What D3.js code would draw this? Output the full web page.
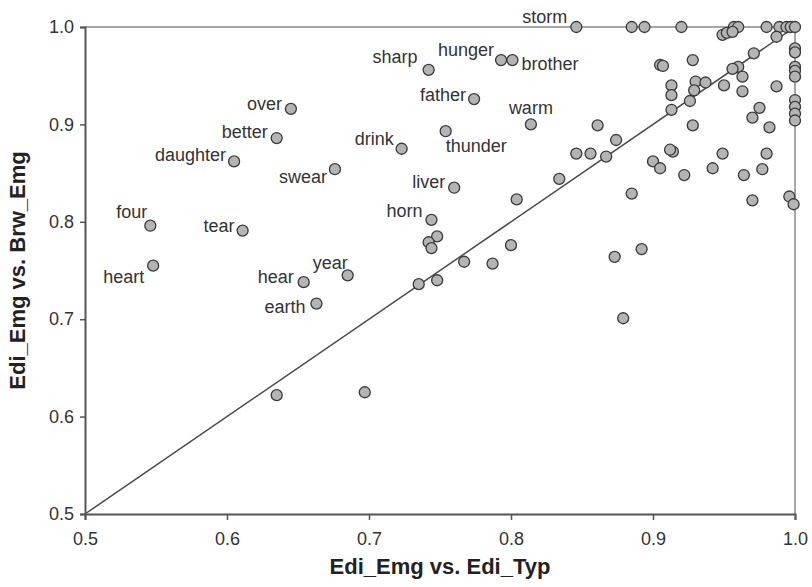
<!DOCTYPE html>
<html>
<head>
<meta charset="utf-8">
<script src="https://cdn.jsdelivr.net/npm/d3@7"></script>
<style>
  body { margin: 0; background: #fff; }
  svg { display: block; font-family: "Liberation Sans", Arial, sans-serif; }
</style>
</head>
<body>
<div id="chart"></div>
<script>
// 1: DATA
// labelled words
const words  = ["storm", "sharp", "hunger", "brother", "father", "warm", "thunder", "drink", "liver", "over",
                "better", "daughter", "swear", "four", "tear", "heart", "hear", "earth", "year", "horn"];
const wordX  = [0.846, 0.742, 0.793, 0.801, 0.774, 0.814, 0.754, 0.723, 0.760, 0.645,
                0.635, 0.605, 0.676, 0.546, 0.611, 0.548, 0.654, 0.663, 0.685, 0.744];
const wordY  = [1.000, 0.956, 0.966, 0.966, 0.926, 0.900, 0.893, 0.875, 0.835, 0.916,
                0.886, 0.862, 0.854, 0.796, 0.791, 0.755, 0.738, 0.716, 0.745, 0.802];

// unlabelled words
const otherX = [0.885, 0.894, 0.920, 0.957, 0.960, 0.980, 0.989, 0.994, 0.997, 1.000,
                0.949, 0.952, 0.956, 0.987, 0.971, 0.960, 0.956, 0.963,
                0.905, 0.907, 0.928, 0.913, 0.913, 0.930, 0.937, 0.929,
                0.950, 0.963, 0.987, 0.926, 0.913, 0.975, 0.970, 0.928, 0.982,
                1.000, 1.000, 1.000, 1.000, 1.000, 1.000, 1.000, 1.000, 1.000,
                0.914, 0.912, 0.900, 0.905, 0.922, 0.949, 0.942, 0.980, 0.977, 0.964, 0.970, 0.996, 0.999,
                0.861, 0.874, 0.846, 0.856, 0.867, 0.834, 0.885, 0.804, 0.800, 0.787, 0.873, 0.892, 0.879,
                0.748, 0.742, 0.744, 0.735, 0.748, 0.767, 0.635, 0.697];
const otherY = [1.000, 1.000, 1.000, 1.000, 1.000, 1.000, 1.000, 1.000, 1.000, 1.000,
                0.992, 0.994, 0.995, 0.990, 0.973, 0.959, 0.957, 0.949,
                0.961, 0.960, 0.966, 0.940, 0.930, 0.944, 0.943, 0.935,
                0.940, 0.934, 0.939, 0.924, 0.915, 0.917, 0.907, 0.899, 0.897,
                0.978, 0.974, 0.959, 0.955, 0.949, 0.925, 0.918, 0.911, 0.904,
                0.872, 0.874, 0.862, 0.855, 0.848, 0.870, 0.855, 0.870, 0.854, 0.848, 0.822, 0.826, 0.818,
                0.899, 0.884, 0.870, 0.870, 0.867, 0.844, 0.829, 0.823, 0.776, 0.757, 0.764, 0.772, 0.701,
                0.785, 0.779, 0.773, 0.736, 0.740, 0.759, 0.622, 0.625];

const xTicks = [0.5, 0.6, 0.7, 0.8, 0.9, 1.0];
const yTicks = [0.5, 0.6, 0.7, 0.8, 0.9, 1.0];

// label placement relative to its point: [anchor, dx, dy]
const labelPos = {
  storm: ["end", -9, -4], sharp: ["end", -11, -7], hunger: ["end", -7, -4], brother: ["start", 9, 10],
  father: ["end", -8, 2], warm: ["middle", 0, -10], thunder: ["start", 0, 21], drink: ["end", -8, -4],
  liver: ["end", -9, 0], over: ["end", -9, 1], better: ["end", -9, 0], daughter: ["end", -8, 0],
  swear: ["end", -8, 14], four: ["end", -3, -8], tear: ["end", -8, 1], heart: ["end", -9, 17],
  hear: ["end", -10, 1], earth: ["end", -11, 9], year: ["end", 0, -6], horn: ["end", -9, -3]
};

// 2: LAYOUT
const W = 812, H = 587;
const margin = { top: 27, right: 17, bottom: 73, left: 85 };
const width = W - margin.left - margin.right;
const height = H - margin.top - margin.bottom;

const svg = d3.select("#chart").append("svg")
    .attr("width", W)
    .attr("height", H);
const g = svg.append("g")
    .attr("transform", `translate(${margin.left},${margin.top})`);

// 3: SCALES
const x = d3.scaleLinear().domain([0.5, 1.0]).range([0, width]);
const y = d3.scaleLinear().domain([0.5, 1.0]).range([height, 0]);

// 4: FRAME (top and right)
g.append("line")
    .attr("x1", 0).attr("x2", width).attr("y1", 0).attr("y2", 0)
    .attr("stroke", "#8a8a8a").attr("stroke-width", 1.5);
g.append("line")
    .attr("x1", width).attr("x2", width).attr("y1", 0).attr("y2", height)
    .attr("stroke", "#8a8a8a").attr("stroke-width", 1.5);

// diagonal y = x
g.append("line")
    .attr("x1", x(0.5)).attr("y1", y(0.5))
    .attr("x2", x(1.0)).attr("y2", y(1.0))
    .attr("stroke", "#4a4a4a").attr("stroke-width", 1.5);

// 5: AXES
const xAxis = g.append("g")
    .attr("transform", `translate(0,${height})`)
    .call(d3.axisBottom(x).tickValues(xTicks).tickFormat(d3.format(".1f")).tickSize(6).tickPadding(12));
const yAxis = g.append("g")
    .call(d3.axisLeft(y).tickValues(yTicks).tickFormat(d3.format(".1f")).tickSize(5).tickPadding(6));

[xAxis, yAxis].forEach(a => {
  a.select(".domain").attr("stroke", "#555").attr("stroke-width", 2);
  a.selectAll(".tick line").attr("stroke", "#555").attr("stroke-width", 1.5);
  a.selectAll(".tick text")
      .attr("fill", "#333")
      .style("font-size", "18px")
      .style("font-family", "'Liberation Sans', Arial, sans-serif");
});

// 6: POINTS
const others = otherX.map((v, i) => ({ x: v, y: otherY[i] }));
const labelled = words.map((w, i) => ({ name: w, x: wordX[i], y: wordY[i] }));

g.selectAll(".pt")
  .data(others.concat(labelled))
  .enter()
  .append("circle")
    .attr("class", "pt")
    .attr("cx", d => x(d.x))
    .attr("cy", d => y(d.y))
    .attr("r", 5.5)
    .attr("fill", "#b4b4b4")
    .attr("stroke", "#3a3a3a")
    .attr("stroke-width", 1.3);

// 7: WORD LABELS
g.selectAll(".word")
  .data(labelled)
  .enter()
  .append("text")
    .attr("class", "word")
    .attr("x", d => x(d.x) + labelPos[d.name][1])
    .attr("y", d => y(d.y) + labelPos[d.name][2])
    .attr("text-anchor", d => labelPos[d.name][0])
    .attr("fill", "#333")
    .style("font-size", "18px")
    .text(d => d.name);

// 8: AXIS TITLES
g.append("text")
    .attr("x", width / 2)
    .attr("y", height + 60)
    .attr("text-anchor", "middle")
    .attr("fill", "#222")
    .style("font-size", "22px")
    .style("font-weight", "bold")
    .text("Edi_Emg vs. Edi_Typ");

g.append("text")
    .attr("transform", "rotate(-90)")
    .attr("x", -height / 2)
    .attr("y", -60)
    .attr("text-anchor", "middle")
    .attr("fill", "#222")
    .style("font-size", "22px")
    .style("font-weight", "bold")
    .text("Edi_Emg vs. Brw_Emg");
</script>
</body>
</html>
